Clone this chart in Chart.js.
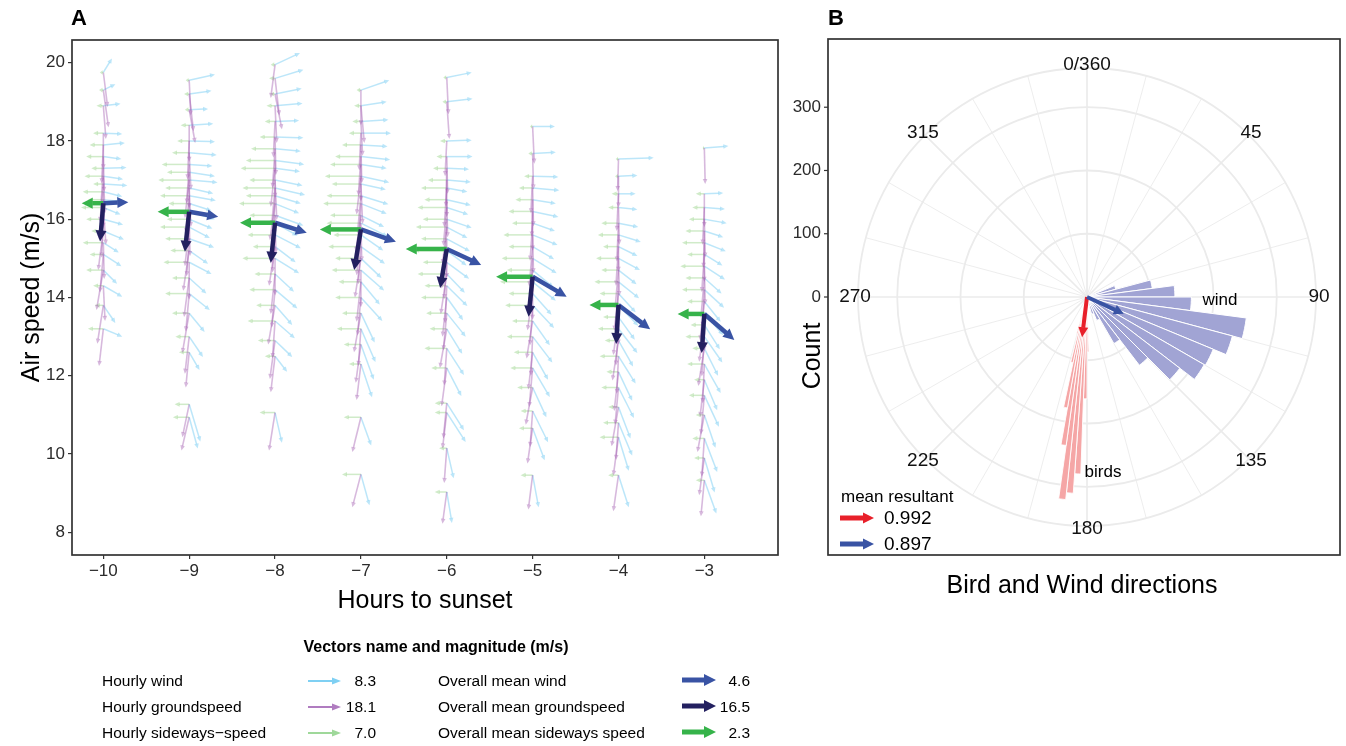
<!DOCTYPE html>
<html><head><meta charset="utf-8">
<script src="https://cdn.jsdelivr.net/npm/chart.js@4.4.1/dist/chart.umd.min.js"></script>
<style>
html,body{margin:0;padding:0;background:#fff;width:1346px;height:746px;overflow:hidden}
#cA{position:absolute;left:0;top:0}
#cB{position:absolute;left:790px;top:0}
</style></head><body>
<canvas id="cA" width="790" height="746"></canvas>
<canvas id="cB" width="556" height="620"></canvas>
<script>
// ---------------- DATA ----------------
const hours = [-10, -9, -8, -7, -6, -5, -4, -3];
const xTickValues = [-10, -9, -8, -7, -6, -5, -4, -3];
const yTickValues = [8, 10, 12, 14, 16, 18, 20];

// hourly records: [airspeed, windU, windV, groundU, groundV, sidewaysU]  (vector components in axis units)
const recM10 = [
 [19.75,0.10,0.36,0.05,-0.88,-0.04],[19.30,0.14,0.15,0.06,-0.95,-0.05],[18.90,0.20,0.05,0.03,-0.85,-0.08],
 [18.20,0.22,-0.02,0.00,-0.92,-0.12],[17.90,0.25,0.05,-0.02,-0.98,-0.16],[17.60,0.21,-0.06,0.01,-0.90,-0.20],
 [17.30,0.27,0.02,-0.03,-1.00,-0.14],[17.10,0.23,-0.08,0.02,-0.95,-0.22],[16.90,0.28,-0.04,-0.04,-0.97,-0.12],
 [16.70,0.22,-0.12,0.00,-0.92,-0.24],[16.50,0.26,-0.06,-0.05,-1.02,-0.18],[16.30,0.20,-0.18,0.03,-0.95,-0.26],
 [16.00,0.23,-0.14,-0.02,-0.98,-0.20],[15.70,0.24,-0.22,-0.06,-1.00,-0.14],[15.40,0.18,-0.25,0.01,-0.93,-0.24],
 [15.10,0.21,-0.30,-0.04,-0.97,-0.16],[14.70,0.16,-0.35,-0.08,-1.02,-0.20],[14.30,0.22,-0.28,0.02,-0.90,-0.12],
 [13.80,0.14,-0.45,-0.07,-0.98,-0.10],[13.20,0.22,-0.20,-0.05,-0.95,-0.18]
];
const recM9 = [
 [19.55,0.30,0.15,0.02,-0.90,-0.04],[19.20,0.26,0.08,0.05,-0.95,-0.06],[18.80,0.22,0.02,0.07,-0.85,-0.05],
 [18.40,0.28,0.04,0.00,-0.93,-0.10],[18.00,0.30,-0.02,-0.02,-0.98,-0.14],[17.70,0.32,-0.06,0.02,-0.95,-0.20],
 [17.40,0.27,-0.04,-0.03,-1.00,-0.32],[17.20,0.30,-0.10,0.00,-0.92,-0.26],[17.00,0.33,-0.06,-0.05,-0.97,-0.36],
 [16.80,0.28,-0.14,0.02,-1.00,-0.28],[16.60,0.31,-0.12,-0.04,-0.95,-0.34],[16.40,0.26,-0.18,-0.01,-1.02,-0.24],
 [16.20,0.30,-0.20,-0.06,-0.98,-0.30],[16.00,0.27,-0.24,0.01,-0.94,-0.26],[15.80,0.24,-0.28,-0.05,-1.00,-0.34],
 [15.50,0.29,-0.22,-0.03,-0.96,-0.28],[15.20,0.22,-0.34,-0.07,-1.03,-0.22],[14.90,0.26,-0.30,0.00,-0.95,-0.30],
 [14.50,0.20,-0.40,-0.06,-1.00,-0.20],[14.10,0.24,-0.42,-0.04,-0.97,-0.28],[13.60,0.18,-0.48,-0.08,-1.02,-0.20],
 [13.00,0.16,-0.52,-0.05,-0.95,-0.16],[12.60,0.12,-0.45,-0.04,-0.90,-0.12],[11.27,0.13,-0.95,-0.08,-0.84,-0.17],
 [10.94,0.10,-0.80,-0.09,-0.85,-0.19]
];
const recM8 = [
 [19.95,0.29,0.30,-0.05,-0.85,-0.05],[19.60,0.33,0.22,0.05,-0.95,-0.07],[19.20,0.31,0.14,0.08,-0.90,-0.06],
 [18.90,0.32,0.06,0.02,-0.95,-0.10],[18.50,0.28,0.02,-0.02,-0.92,-0.12],[18.10,0.33,-0.02,0.01,-0.97,-0.18],
 [17.80,0.30,-0.06,-0.03,-1.00,-0.28],[17.50,0.34,-0.10,0.00,-0.95,-0.34],[17.30,0.29,-0.08,-0.05,-0.98,-0.40],
 [17.00,0.32,-0.14,0.02,-1.02,-0.30],[16.80,0.35,-0.18,-0.04,-0.96,-0.38],[16.60,0.30,-0.20,-0.02,-1.00,-0.34],
 [16.40,0.28,-0.25,-0.06,-0.94,-0.42],[16.10,0.33,-0.26,0.01,-0.98,-0.30],[15.90,0.26,-0.32,-0.05,-1.03,-0.36],
 [15.60,0.30,-0.34,-0.03,-0.96,-0.32],[15.30,0.24,-0.40,-0.07,-1.00,-0.26],[15.00,0.28,-0.38,0.00,-0.95,-0.38],
 [14.60,0.22,-0.45,-0.05,-1.02,-0.24],[14.20,0.26,-0.48,-0.04,-0.97,-0.30],[13.80,0.20,-0.50,-0.08,-1.00,-0.22],
 [13.40,0.23,-0.44,-0.03,-0.95,-0.32],[12.90,0.20,-0.42,-0.06,-0.98,-0.20],[12.50,0.14,-0.40,-0.05,-0.92,-0.12],
 [11.06,0.08,-0.77,-0.07,-0.97,-0.18]
];
const recM7 = [
 [19.30,0.33,0.25,0.00,-0.90,-0.05],[18.90,0.30,0.10,0.04,-0.95,-0.08],[18.50,0.32,0.04,0.02,-0.88,-0.10],
 [18.20,0.35,0.00,-0.02,-0.95,-0.14],[17.90,0.31,-0.04,0.01,-0.98,-0.22],[17.60,0.34,-0.08,-0.03,-1.00,-0.30],
 [17.40,0.30,-0.10,0.00,-0.94,-0.36],[17.10,0.33,-0.16,-0.05,-0.98,-0.42],[16.90,0.29,-0.14,0.02,-1.02,-0.34],
 [16.60,0.32,-0.22,-0.04,-0.96,-0.40],[16.40,0.30,-0.26,-0.02,-1.00,-0.44],[16.10,0.27,-0.30,-0.06,-0.94,-0.36],
 [15.90,0.31,-0.34,0.01,-0.98,-0.40],[15.60,0.26,-0.40,-0.05,-1.03,-0.32],[15.30,0.28,-0.44,-0.03,-0.96,-0.38],
 [15.00,0.24,-0.50,-0.07,-1.00,-0.30],[14.70,0.27,-0.52,0.00,-0.95,-0.34],[14.40,0.22,-0.58,-0.05,-1.02,-0.26],
 [14.00,0.25,-0.60,-0.04,-0.97,-0.30],[13.60,0.16,-0.75,-0.08,-1.00,-0.22],[13.20,0.17,-0.85,-0.03,-0.95,-0.28],
 [12.80,0.15,-0.90,-0.06,-0.98,-0.20],[12.30,0.13,-0.85,-0.05,-0.92,-0.14],[10.94,0.12,-0.72,-0.10,-0.89,-0.20],
 [9.48,0.10,-0.79,-0.10,-0.84,-0.22]
];
const recM6 = [
 [19.62,0.29,0.13,0.02,-0.94,-0.04],[19.00,0.30,0.08,0.03,-0.95,-0.05],[18.00,0.29,0.02,-0.02,-0.90,-0.08],
 [17.60,0.30,0.00,0.01,-0.95,-0.12],[17.30,0.26,-0.02,-0.01,-0.98,-0.16],[17.00,0.28,-0.05,0.00,-0.94,-0.22],
 [16.80,0.24,-0.10,-0.03,-1.00,-0.30],[16.50,0.28,-0.14,0.01,-0.96,-0.26],[16.30,0.25,-0.18,-0.04,-0.98,-0.34],
 [16.00,0.29,-0.22,-0.02,-1.02,-0.28],[15.80,0.24,-0.28,-0.05,-0.95,-0.36],[15.50,0.27,-0.32,0.00,-1.00,-0.30],
 [15.20,0.23,-0.38,-0.06,-0.97,-0.38],[14.90,0.26,-0.42,-0.03,-0.94,-0.28],[14.60,0.21,-0.48,-0.07,-1.02,-0.34],
 [14.30,0.24,-0.52,-0.02,-0.96,-0.26],[14.00,0.19,-0.58,-0.05,-1.00,-0.30],[13.60,0.22,-0.60,-0.04,-0.95,-0.24],
 [13.20,0.18,-0.64,-0.08,-1.00,-0.20],[12.70,0.20,-0.68,-0.03,-0.95,-0.26],[12.20,0.17,-0.72,-0.06,-0.98,-0.18],
 [11.30,0.20,-0.69,-0.04,-0.90,-0.14],[11.06,0.22,-0.75,-0.05,-0.92,-0.14],[10.15,0.08,-0.77,-0.03,-0.89,-0.09],
 [9.03,0.06,-0.79,-0.05,-0.81,-0.14]
];
const recM5 = [
 [18.37,0.26,0.00,0.02,-0.95,-0.03],[17.68,0.27,0.03,0.01,-0.92,-0.05],[17.10,0.30,-0.02,-0.02,-0.95,-0.10],
 [16.80,0.31,-0.06,0.01,-0.98,-0.16],[16.50,0.27,-0.10,-0.01,-0.94,-0.20],[16.20,0.30,-0.14,0.00,-1.00,-0.28],
 [15.90,0.26,-0.20,-0.03,-0.96,-0.24],[15.60,0.29,-0.26,0.01,-0.98,-0.34],[15.30,0.25,-0.32,-0.04,-1.02,-0.28],
 [15.00,0.28,-0.38,-0.02,-0.95,-0.36],[14.70,0.24,-0.44,-0.05,-1.00,-0.30],[14.40,0.27,-0.48,0.00,-0.97,-0.38],
 [14.10,0.22,-0.54,-0.06,-0.94,-0.28],[13.80,0.25,-0.58,-0.03,-1.02,-0.32],[13.40,0.20,-0.62,-0.07,-0.96,-0.24],
 [13.00,0.23,-0.66,-0.02,-1.00,-0.30],[12.60,0.18,-0.70,-0.05,-0.95,-0.22],[12.20,0.20,-0.74,-0.04,-1.00,-0.26],
 [11.70,0.16,-0.76,-0.08,-0.95,-0.18],[11.10,0.18,-0.80,-0.03,-0.92,-0.14],[10.66,0.14,-0.82,-0.06,-0.90,-0.16],
 [9.46,0.07,-0.82,-0.05,-0.88,-0.14]
];
const recM4 = [
 [17.54,0.41,0.03,-0.01,-0.82,-0.03],[17.10,0.22,0.02,0.00,-0.80,-0.04],[16.65,0.20,0.00,-0.02,-0.95,-0.08],
 [16.30,0.22,-0.05,0.01,-0.95,-0.12],[15.90,0.23,-0.10,-0.02,-0.98,-0.20],[15.60,0.26,-0.18,0.00,-0.94,-0.24],
 [15.30,0.22,-0.24,-0.03,-1.00,-0.18],[15.00,0.25,-0.30,0.01,-0.96,-0.26],[14.70,0.21,-0.36,-0.04,-0.98,-0.20],
 [14.40,0.24,-0.42,-0.02,-1.02,-0.28],[14.10,0.20,-0.48,-0.05,-0.95,-0.22],[13.80,0.23,-0.52,0.00,-1.00,-0.26],
 [13.50,0.19,-0.58,-0.06,-0.97,-0.18],[13.20,0.22,-0.62,-0.03,-0.94,-0.24],[12.90,0.17,-0.66,-0.07,-1.02,-0.16],
 [12.50,0.20,-0.70,-0.02,-0.96,-0.22],[12.10,0.16,-0.74,-0.05,-1.00,-0.14],[11.70,0.18,-0.78,-0.04,-0.95,-0.20],
 [11.20,0.14,-0.80,-0.08,-1.00,-0.12],[10.80,0.16,-0.84,-0.03,-0.95,-0.18],[10.43,0.12,-0.86,-0.06,-0.98,-0.22],
 [9.46,0.12,-0.82,-0.06,-0.92,-0.12]
];
const recM3 = [
 [17.82,0.28,0.05,0.01,-0.92,-0.02],[16.65,0.22,0.02,0.00,-0.85,-0.10],[16.30,0.24,-0.04,-0.02,-0.95,-0.14],
 [16.00,0.26,-0.10,0.01,-0.98,-0.18],[15.70,0.22,-0.16,-0.01,-0.94,-0.22],[15.40,0.25,-0.22,0.00,-1.00,-0.26],
 [15.10,0.21,-0.28,-0.03,-0.96,-0.20],[14.80,0.24,-0.34,0.01,-0.98,-0.28],[14.50,0.20,-0.40,-0.04,-1.02,-0.22],
 [14.20,0.23,-0.46,-0.02,-0.95,-0.26],[13.90,0.19,-0.52,-0.05,-1.00,-0.20],[13.60,0.22,-0.56,0.00,-0.97,-0.24],
 [13.30,0.18,-0.62,-0.06,-0.94,-0.16],[13.00,0.21,-0.66,-0.03,-1.02,-0.22],[12.70,0.16,-0.70,-0.07,-0.96,-0.14],
 [12.30,0.19,-0.74,-0.02,-1.00,-0.20],[11.90,0.15,-0.78,-0.05,-0.95,-0.12],[11.50,0.17,-0.80,-0.04,-1.00,-0.18],
 [11.00,0.13,-0.84,-0.08,-0.95,-0.10],[10.40,0.15,-0.86,-0.03,-0.98,-0.14],[9.90,0.12,-0.88,-0.06,-0.95,-0.12],
 [9.33,0.14,-0.85,-0.04,-0.92,-0.10]
];
const hourlyRecords = [recM10, recM9, recM8, recM7, recM6, recM5, recM4, recM3];

// overall means per hour (tail airspeed, vector components in axis units)
const meanAirspeed = [16.41, 16.19, 15.91, 15.74, 15.24, 14.53, 13.81, 13.58];
const meanWindU    = [0.291, 0.338, 0.369, 0.408, 0.401, 0.396, 0.369, 0.349];
const meanWindV    = [0.026, -0.128, -0.256, -0.317, -0.409, -0.511, -0.621, -0.664];
const meanGroundU  = [-0.038, -0.050, -0.050, -0.078, -0.077, -0.047, -0.027, -0.031];
const meanGroundV  = [-0.98, -1.02, -1.02, -1.04, -1.00, -1.02, -1.00, -1.00];
const meanSideU    = [-0.252, -0.368, -0.408, -0.478, -0.478, -0.426, -0.338, -0.311];

const legendHourlyNames = ['Hourly wind', 'Hourly groundspeed', 'Hourly sideways\u2212speed'];
const legendHourlyMag   = ['8.3', '18.1', '7.0'];
const legendMeanNames   = ['Overall mean wind', 'Overall mean groundspeed', 'Overall mean sideways speed'];
const legendMeanMag     = ['4.6', '16.5', '2.3'];

// Panel B: histograms of directions
const windBinWidth = 7.5, windStartDeg = 52.5;
const windCounts = [5, 12, 47, 104, 139, 165, 254, 238, 216, 214, 185, 136, 85, 40, 28, 10];
const birdBinWidth = 2, birdStartDeg = 178;
const birdCounts = [87, 161, 280, 311, 322, 237, 178, 106, 60];
const countTicks = [0, 100, 200, 300];
const countMax = 362;
const angleTickLabels = [[0,'0/360'],[45,'45'],[90,'90'],[135,'135'],[180,'180'],[225,'225'],[270,'270'],[315,'315']];
const spokeDegrees = [0,15,30,45,60,75,90,105,120,135,150,165,180,195,210,225,240,255,270,285,300,315,330,345];
const meanResultant = [0.992, 0.897];      // birds, wind
const meanDirection = [187, 114.5];        // degrees
const meanArrowReach = 64;                 // drawn length in count units

// ---------------- STYLE ----------------
const FONT = "'Liberation Sans', Arial, Helvetica, sans-serif";
Chart.defaults.font.family = FONT;
Chart.defaults.color = '#2b2b2b';
const C = {
  hWind: 'rgba(95,195,240,0.42)', hGround: 'rgba(160,88,175,0.42)', hSide: 'rgba(125,200,105,0.36)',
  lWind: '#7fd0f3', lGround: '#b07cc0', lSide: '#9fd89a',
  mWind: '#3953a4', mGround: '#232060', mSide: '#36b34a',
  windBar: 'rgb(161,164,212)', birdBar: 'rgb(245,166,166)', red: '#e8202a'
};

function arrow(ctx, x0, y0, x1, y1, lw, hl, hw, color) {
  const dx = x1 - x0, dy = y1 - y0, L = Math.hypot(dx, dy);
  if (L < 0.5) return;
  const ux = dx / L, uy = dy / L;
  const h = Math.min(hl, L * 0.8);
  const bx = x1 - ux * h, by = y1 - uy * h;
  ctx.strokeStyle = color; ctx.fillStyle = color; ctx.lineWidth = lw; ctx.lineCap = 'butt';
  ctx.beginPath(); ctx.moveTo(x0, y0); ctx.lineTo(bx + ux * 0.5, by + uy * 0.5); ctx.stroke();
  ctx.beginPath(); ctx.moveTo(x1, y1);
  ctx.lineTo(bx - uy * hw, by + ux * hw); ctx.lineTo(bx + uy * hw, by - ux * hw);
  ctx.closePath(); ctx.fill();
}
function minusFmt(v) { return v < 0 ? '\u2212' + (-v) : String(v); }

// ---------------- PANEL A ----------------
const tailPoints = [];
hourlyRecords.forEach((recs, h) => recs.forEach(r => tailPoints.push({x: hours[h], y: r[0]})));

const panelAPlugin = {
  id: 'panelA',
  afterDraw(chart) {
    const ctx = chart.ctx, xs = chart.scales.x, ys = chart.scales.y, a = chart.chartArea;
    const px = v => xs.getPixelForValue(v), py = v => ys.getPixelForValue(v);
    ctx.save();
    // hourly vectors
    hourlyRecords.forEach((recs, h) => {
      const x = hours[h];
      recs.forEach(r => { arrow(ctx, px(x), py(r[0]), px(x + r[5]), py(r[0]), 1.5, 5, 2.3, C.hSide); });
      recs.forEach(r => { arrow(ctx, px(x), py(r[0]), px(x + r[1]), py(r[0] + r[2]), 1.5, 5, 2.3, C.hWind); });
      recs.forEach(r => { arrow(ctx, px(x), py(r[0]), px(x + r[3]), py(r[0] + r[4]), 1.6, 5, 2.3, C.hGround); });
    });
    // overall mean vectors
    hours.forEach((x, h) => {
      const y = meanAirspeed[h];
      arrow(ctx, px(x), py(y), px(x + meanSideU[h]), py(y), 4.5, 11, 5.5, C.mSide);
      arrow(ctx, px(x), py(y), px(x + meanWindU[h]), py(y + meanWindV[h]), 4.5, 11, 5.5, C.mWind);
      arrow(ctx, px(x), py(y), px(x + meanGroundU[h]), py(y + meanGroundV[h]), 4.5, 11, 5.5, C.mGround);
    });
    // panel box
    ctx.strokeStyle = '#333'; ctx.lineWidth = 1.7;
    ctx.strokeRect(a.left, a.top, a.right - a.left, a.bottom - a.top);
    // titles
    ctx.fillStyle = '#000';
    ctx.font = 'bold 22px ' + FONT; ctx.textAlign = 'left'; ctx.textBaseline = 'middle';
    ctx.fillText('A', 71, 19);
    ctx.font = '25px ' + FONT; ctx.textAlign = 'center';
    ctx.fillText('Hours to sunset', (a.left + a.right) / 2, 601);
    ctx.save(); ctx.translate(32, (a.top + a.bottom) / 2); ctx.rotate(-Math.PI / 2);
    ctx.fillText('Air speed (m/s)', 0, 0); ctx.restore();
    // legend
    ctx.font = 'bold 16px ' + FONT; ctx.textAlign = 'center';
    ctx.fillText('Vectors name and magnitude (m/s)', 436, 648);
    const rows = [682, 708, 734];
    const hCols = [C.lWind, C.lGround, C.lSide], mCols = [C.mWind, C.mGround, C.mSide];
    ctx.font = '15.5px ' + FONT;
    rows.forEach((ry, i) => {
      ctx.fillStyle = '#000'; ctx.textAlign = 'left';
      ctx.fillText(legendHourlyNames[i], 102, ry);
      ctx.fillText(legendMeanNames[i], 438, ry);
      ctx.textAlign = 'right';
      ctx.fillText(legendHourlyMag[i], 376, ry);
      ctx.fillText(legendMeanMag[i], 750, ry);
      arrow(ctx, 308, ry - 1, 341, ry - 1, 2, 9, 3.5, hCols[i]);
      arrow(ctx, 682, ry - 2, 716, ry - 2, 5, 12, 6, mCols[i]);
    });
    ctx.restore();
  }
};

new Chart(document.getElementById('cA'), {
  type: 'scatter',
  data: { datasets: [
    { data: tailPoints, pointRadius: 0, showLine: false },
    { data: hours.map((x, h) => ({x, y: meanAirspeed[h]})), pointRadius: 0, showLine: false }
  ]},
  options: {
    responsive: false, animation: false, devicePixelRatio: 1,
    layout: { padding: { top: 40, right: 12, left: 0, bottom: 0 } },
    plugins: { legend: { display: false }, tooltip: { enabled: false } },
    scales: {
      x: {
        type: 'linear', min: -10.365, max: -2.142,
        afterBuildTicks: s => { s.ticks = xTickValues.map(v => ({value: v})); },
        afterFit: s => { s.height = 746 - 555; },
        ticks: { callback: v => minusFmt(v), font: { size: 17 }, color: '#2b2b2b', padding: 2, maxRotation: 0 },
        grid: { display: true, drawOnChartArea: false, drawTicks: true, tickLength: 4, color: '#333', lineWidth: 1.2 },
        border: { display: false }
      },
      y: {
        type: 'linear', min: 7.42, max: 20.58,
        afterBuildTicks: s => { s.ticks = yTickValues.map(v => ({value: v})); },
        afterFit: s => { s.width = 72; },
        ticks: { font: { size: 17 }, color: '#2b2b2b', padding: 3 },
        grid: { display: true, drawOnChartArea: false, drawTicks: true, tickLength: 4, color: '#333', lineWidth: 1.2 },
        border: { display: false }
      }
    }
  },
  plugins: [panelAPlugin]
});

// ---------------- PANEL B ----------------
const windFull = new Array(360 / windBinWidth).fill(0);
windCounts.forEach((c, k) => { windFull[windStartDeg / windBinWidth + k] = c; });
const birdFull = new Array(360 / birdBinWidth).fill(0);
birdCounts.forEach((c, k) => { birdFull[birdStartDeg / birdBinWidth + k] = c; });

const panelBPlugin = {
  id: 'panelB',
  afterDraw(chart) {
    const ctx = chart.ctx, s = chart.scales.r;
    const step = 360 / spokeDegrees.length;
    ctx.save();
    // box
    ctx.strokeStyle = '#333'; ctx.lineWidth = 1.7;
    ctx.strokeRect(38, 39, 512, 516);
    // count axis
    ctx.font = '17px ' + FONT; ctx.fillStyle = '#2b2b2b'; ctx.textAlign = 'right'; ctx.textBaseline = 'middle';
    ctx.lineWidth = 1.2;
    countTicks.forEach(v => {
      const y = s.yCenter - s.getDistanceFromCenterForValue(v);
      ctx.beginPath(); ctx.moveTo(34, y); ctx.lineTo(38, y); ctx.stroke();
      ctx.fillText(String(v), 31, y);
    });
    ctx.fillStyle = '#000'; ctx.font = '25px ' + FONT; ctx.textAlign = 'center';
    ctx.save(); ctx.translate(23, 356); ctx.rotate(-Math.PI / 2); ctx.fillText('Count', 0, 0); ctx.restore();
    ctx.fillText('Bird and Wind directions', 292, 586);
    ctx.font = 'bold 22px ' + FONT; ctx.textAlign = 'left';
    ctx.fillText('B', 38, 19);
    // angle labels
    ctx.font = '19px ' + FONT; ctx.fillStyle = '#111'; ctx.textAlign = 'center';
    angleTickLabels.forEach(([deg, txt]) => {
      const p = s.getPointPosition(deg / step, s.drawingArea + 3);
      ctx.fillText(txt, p.x, p.y);
    });
    // series labels
    ctx.font = '17px ' + FONT; ctx.fillStyle = '#000';
    ctx.fillText('wind', 430, 300);
    ctx.fillText('birds', 313, 472);
    // mean resultant arrows
    const reach = s.getDistanceFromCenterForValue(meanArrowReach);
    const cols = [C.red, C.mWind];
    meanDirection.forEach((deg, i) => {
      const p = s.getPointPosition(deg / step, reach);
      arrow(ctx, s.xCenter, s.yCenter, p.x, p.y, 4, 10, 5, cols[i]);
    });
    // legend
    ctx.textAlign = 'left'; ctx.fillStyle = '#000';
    ctx.font = '17px ' + FONT;
    ctx.fillText('mean resultant', 51, 497);
    ctx.font = '19px ' + FONT;
    [518, 544].forEach((y, i) => {
      arrow(ctx, 50, y, 84, y, 5, 11, 5.5, cols[i]);
      ctx.fillStyle = '#000';
      ctx.fillText(meanResultant[i].toFixed(3), 94, y + 1);
    });
    ctx.restore();
  }
};

new Chart(document.getElementById('cB'), {
  type: 'polarArea',
  data: {
    labels: spokeDegrees.map(String),
    datasets: [
      { data: windFull, backgroundColor: C.windBar, borderColor: '#fff',
        borderWidth: c => (c.raw > 0 ? 1 : 0) },
      { data: birdFull, backgroundColor: C.birdBar, borderColor: '#fff',
        borderWidth: c => (c.raw > 0 ? 0.9 : 0) }
    ]
  },
  options: {
    responsive: false, animation: false, devicePixelRatio: 1,
    layout: { padding: { left: 68, top: 68, right: 29, bottom: 93 } },
    plugins: { legend: { display: false }, tooltip: { enabled: false } },
    scales: {
      r: {
        type: 'radialLinear', min: 0, max: countMax, startAngle: 0,
        afterBuildTicks: s => { s.ticks = countTicks.concat([countMax]).map(v => ({value: v})); },
        ticks: { display: false },
        grid: { circular: true, color: '#ebebeb', lineWidth: 1.8 },
        angleLines: { display: true, color: '#ebebeb', lineWidth: c => (c.index % 3 === 0 ? 1.7 : 0.9) },
        pointLabels: { display: false }
      }
    }
  },
  plugins: [panelBPlugin]
});
</script></body></html>
